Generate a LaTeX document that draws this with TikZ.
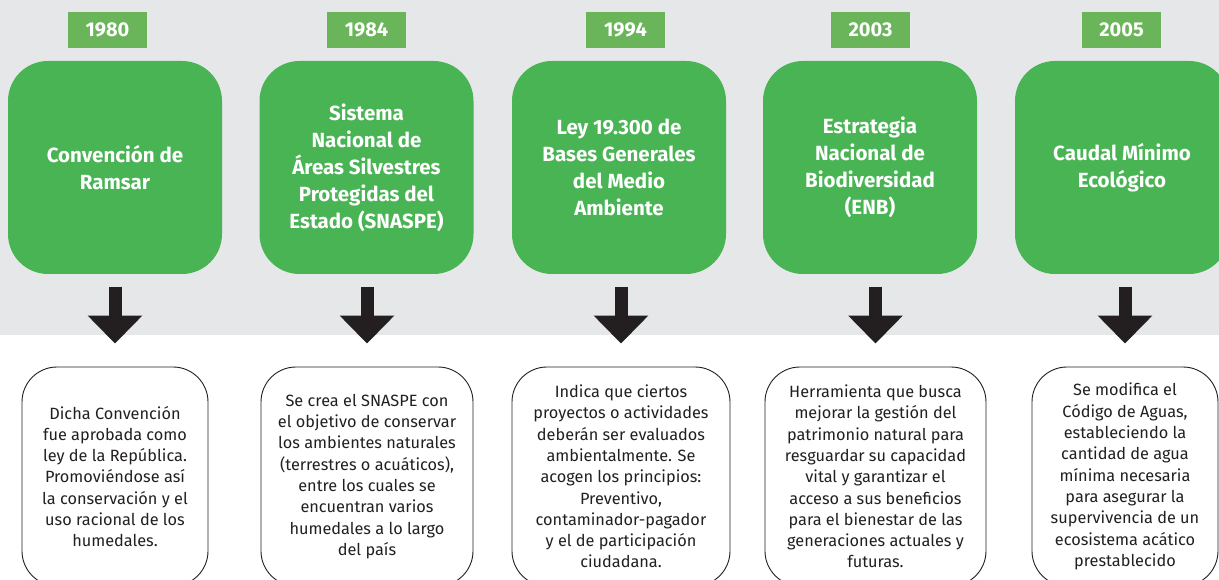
\documentclass[tikz,border=0pt]{standalone}
\usepackage{fontspec}
\setmainfont{Fira Sans}
\usetikzlibrary{arrows.meta,positioning}

\begin{document}
\begin{tikzpicture}[x=1pt,y=-1pt]
    \def\boxw{214pt}
    \def\boxh{213pt}
    \def\noteh{219pt}

    \definecolor{tl-band}{HTML}{E6E7E9}
    \definecolor{tl-green}{HTML}{48B454}
    \definecolor{tl-year}{HTML}{6AB55A}
    \definecolor{tl-ink}{HTML}{231F20}

    \tikzset{
      yearbox/.style={
        fill=tl-year,
        text=white,
        font=\bfseries\fontsize{20}{24}\selectfont,
        minimum width=79pt,
        minimum height=36pt,
        inner sep=0pt
      },
      eventbox/.style={
        fill=tl-green,
        rounded corners=40pt,
        minimum width=\boxw,
        minimum height=\boxh,
        align=center,
        text=white,
        font=\bfseries\fontsize{20.5}{27}\selectfont,
        inner sep=0pt
      },
      notebox/.style={
        draw=tl-ink,
        line width=0.9pt,
        fill=white,
        rounded corners=35pt,
        minimum height=\noteh,
        align=center,
        text=tl-ink,
        font=\fontsize{16.3}{21.3}\selectfont,
        inner sep=0pt
      },
      bigarrow/.style={
        -{Triangle[width=53pt,length=28pt]},
        line width=13pt,
        draw=tl-ink
      }
    }

    \clip (0,0) rectangle (1219,580);
    \fill[white] (0,0) rectangle (1219,580);
    \fill[tl-band] (0,0) rectangle (1219,335);

    % years
    \node[yearbox] (y1) at (107.5,30) {1980};
    \node[yearbox] (y2) at (366.5,30) {1984};
    \node[yearbox] (y3) at (625.5,30) {1994};
    \node[yearbox] (y4) at (870.5,30) {2003};
    \node[yearbox] (y5) at (1121.5,30) {2005};

    % green boxes
    \node[eventbox] (e1) at (115,167.5) {Convención de\\Ramsar};
    \node[eventbox] (e2) at (366.5,167.5) {Sistema\\Nacional de\\Áreas Silvestres\\Protegidas del\\Estado (SNASPE)};
    \node[eventbox] (e3) at (619,167.5) {Ley 19.300 de\\Bases Generales\\del Medio\\Ambiente};
    \node[eventbox] (e4) at (870,167.5) {Estrategia\\Nacional de\\Biodiversidad\\(ENB)};
    \node[eventbox] (e5) at (1122,167.5) {Caudal Mínimo\\Ecológico};

    % white boxes
    \node[notebox, minimum width=186pt] (n1) at (115,476.5)
      {Dicha Convención\\fue aprobada como\\ley de la República.\\Promoviéndose así\\la conservación y el\\uso racional de los\\humedales.};
    \node[notebox, minimum width=212pt] (n2) at (367,476.5)
      {Se crea el SNASPE con\\el objetivo de conservar\\los ambientes naturales\\(terrestres o acuáticos),\\entre los cuales se\\encuentran varios\\humedales a lo largo\\del país};
    \node[notebox, minimum width=218pt] (n3) at (621,476.5)
      {Indica que ciertos\\proyectos o actividades\\deberán ser evaluados\\ambientalmente. Se\\acogen los principios:\\Preventivo,\\contaminador-pagador\\y el de participación\\ciudadana.};
    \node[notebox, minimum width=221pt] (n4) at (875.5,476.5)
      {Herramienta que busca\\mejorar la gestión del\\patrimonio natural para\\resguardar su capacidad\\vital y garantizar el\\acceso a sus beneficios\\para el bienestar de las\\generaciones actuales y\\futuras.};
    \node[notebox, minimum width=186pt] (n5) at (1125,476.5)
      {Se modifica el\\Código de Aguas,\\estableciendo la\\cantidad de agua\\mínima necesaria\\para asegurar la\\supervivencia de un\\ecosistema acático\\prestablecido};

    % arrows
    \draw[bigarrow] ([yshift=80pt]n1.north) -- ([yshift=23pt]n1.north);
    \draw[bigarrow] ([yshift=80pt]n2.north) -- ([yshift=23pt]n2.north);
    \draw[bigarrow] ([yshift=80pt]n3.north) -- ([yshift=23pt]n3.north);
    \draw[bigarrow] ([yshift=80pt]n4.north) -- ([yshift=23pt]n4.north);
    \draw[bigarrow] ([yshift=80pt]n5.north) -- ([yshift=23pt]n5.north);
\end{tikzpicture}
\end{document}
